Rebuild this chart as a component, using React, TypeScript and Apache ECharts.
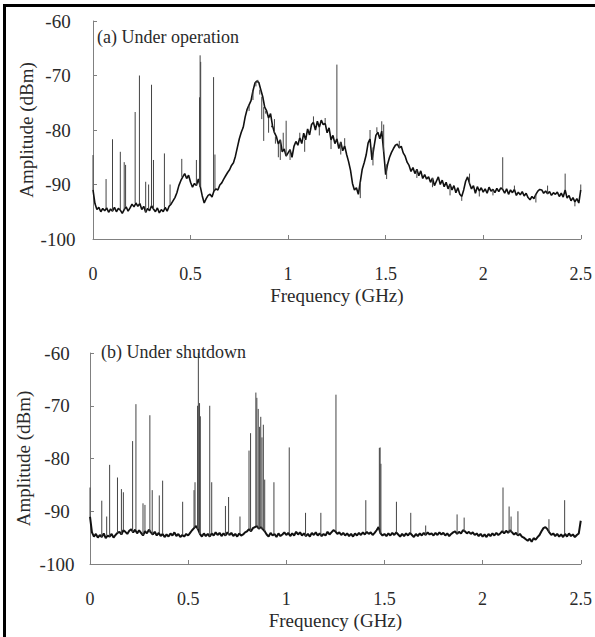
import React, { useEffect, useRef } from "react";
import * as echarts from "echarts";

// Frequency grid step of the noise floor traces (GHz)
const FREQ_STEP = 0.01;

// (a) Under operation: noise floor / broadband trace, one value per 0.01 GHz from 0 to 2.5
const operationTrace = [
  -91.0, -93.5, -94.6, -94.2, -95.0, -94.4, -94.8, -94.3, -95.1, -94.5,
  -94.9, -94.2, -95.0, -94.4, -94.7, -95.3, -94.6, -94.1, -94.9, -94.3,
  -93.6, -94.1, -93.4, -94.0, -93.5, -94.6, -94.0, -95.1, -94.4, -94.8,
  -93.9, -94.5, -95.0, -94.3, -95.2, -94.6, -95.0, -94.2, -94.9, -94.0,
  -93.6, -93.0, -92.4, -91.5, -90.2, -89.3, -88.6, -88.0, -88.9, -88.3,
  -89.6, -90.5, -89.8, -90.2, -89.0, -90.4, -92.1, -93.4, -92.6, -92.0,
  -91.8, -92.3, -91.2, -90.8, -91.0, -90.1, -89.7, -89.0, -88.4, -87.8,
  -87.3, -86.5, -86.0, -84.8, -83.2, -81.6, -80.4, -79.5, -77.6, -76.2,
  -75.4, -74.6, -72.8, -71.4, -71.0, -71.3, -72.6, -73.9, -75.8, -76.5,
  -77.8, -77.0, -79.2, -80.5, -81.2, -82.6, -81.8, -84.0, -83.5, -84.8,
  -84.2, -83.6, -85.0, -83.0, -82.1, -82.8, -81.4, -82.5, -80.6, -81.8,
  -79.8, -80.9, -79.0, -78.6, -80.0, -78.4, -79.5, -78.2, -79.0, -78.8,
  -80.5, -79.6, -81.8, -81.0, -82.5, -81.6, -83.4, -82.2, -83.8, -82.9,
  -84.5, -85.8, -87.4, -89.8, -91.0, -90.6, -91.8, -89.5, -87.2, -86.0,
  -84.6, -82.4, -81.6, -85.5, -83.2, -81.0, -80.4, -81.6, -80.2, -84.0,
  -88.2, -86.3, -85.0, -84.1, -83.4, -82.8, -82.6, -83.3, -83.0, -84.2,
  -84.8, -85.9, -86.5, -87.6, -86.9, -88.0, -87.2, -88.4, -87.5, -88.9,
  -88.2, -89.0, -88.6, -89.6, -88.8, -90.2, -89.4, -88.6, -90.0, -89.2,
  -90.4, -89.6, -90.8, -89.9, -91.0, -90.2, -91.5, -90.6, -91.8, -92.2,
  -91.0, -89.4, -88.6, -89.8, -90.8, -90.2, -91.6, -90.4, -91.2, -90.6,
  -91.4, -90.8, -91.6, -90.5, -91.2, -90.9, -91.5, -90.7, -91.3, -90.6,
  -90.9, -91.6, -90.8, -91.8, -91.0, -91.5, -90.9, -92.0, -91.4, -91.9,
  -91.3, -92.1, -91.6, -92.4, -92.8, -92.2, -92.6, -91.8, -91.2, -90.9,
  -91.0, -91.6, -91.2, -91.7, -91.3, -92.0, -91.5, -91.8, -91.4, -92.2,
  -91.6, -92.3, -91.0, -92.5, -92.0, -93.0, -92.4, -93.2, -92.6, -93.4,
  -91.0,
];

// (a) narrow spectral lines and jagged excursions: frequency (GHz) and tip amplitude (dBm)
const operationSpikeFreq = [
  0.0, 0.067, 0.1, 0.14, 0.16, 0.167, 0.216, 0.238, 0.27, 0.285, 0.3, 0.31,
  0.366, 0.395, 0.455, 0.53, 0.546, 0.549, 0.552, 0.618, 0.625,
  0.8, 0.82, 0.835, 0.845, 0.855, 0.865, 0.875, 0.885, 0.9, 0.915, 0.93, 0.935,
  0.95, 0.96, 0.975, 0.99, 1.01, 1.06, 1.085, 1.13, 1.16, 1.19, 1.22, 1.25,
  1.27, 1.29, 1.37, 1.42, 1.435, 1.455, 1.48, 1.49, 1.505, 1.57, 1.66, 1.74,
  1.83, 1.89, 1.93, 1.98, 2.05, 2.1, 2.16, 2.27, 2.33, 2.42, 2.47, 2.5,
];
const operationSpikePeak = [
  -84.6, -89.0, -81.7, -84.0, -85.9, -86.4, -76.7, -70.0, -89.5, -90.0, -71.7, -85.5,
  -84.3, -90.0, -85.3, -85.5, -74.0, -66.3, -67.5, -70.3, -84.5,
  -76.5, -74.5, -72.0, -70.8, -73.5, -78.0, -82.0, -77.0, -80.5, -79.5, -78.0, -82.5,
  -85.0, -85.5, -80.5, -78.3, -85.5, -80.5, -84.0, -77.5, -81.0, -77.8, -83.5, -68.0,
  -84.5, -81.5, -92.5, -80.0, -86.5, -79.5, -78.4, -79.0, -89.0, -82.0, -88.8, -90.5,
  -92.0, -93.0, -88.0, -92.2, -92.0, -85.0, -90.2, -93.3, -90.2, -88.0, -94.0, -90.0,
];

// (b) Under shutdown: noise floor, one value per 0.01 GHz from 0 to 2.5
const shutdownTrace = [
  -91.0, -94.0, -94.8, -94.3, -95.0, -94.5, -94.9, -94.2, -95.1, -94.6,
  -94.8, -94.3, -95.0, -94.5, -94.1, -93.9, -94.4, -93.6, -93.9, -94.3,
  -93.7, -93.4, -94.0, -93.5, -94.2, -93.6, -94.1, -94.6, -93.8, -94.2,
  -93.5, -94.0, -94.4, -93.9, -94.6, -94.1, -94.7, -94.3, -94.9, -94.4,
  -94.8, -94.2, -94.6, -94.0, -94.7, -94.3, -94.9, -94.5, -94.8, -94.3,
  -94.6, -94.1, -93.6, -93.2, -92.8, -93.4, -94.3, -94.8, -94.2, -94.7,
  -94.3, -94.8, -94.2, -94.6, -94.0, -94.5, -94.1, -94.7, -94.2, -94.6,
  -94.0, -94.5, -94.1, -94.7, -94.3, -94.8, -94.2, -94.6, -94.4, -94.0,
  -93.8, -93.4, -93.8, -93.2, -93.0, -92.8, -93.3, -93.0, -93.4, -93.8,
  -94.4, -94.8, -94.1, -94.6, -94.3, -94.9, -94.2, -94.7, -94.4, -94.0,
  -94.5, -94.1, -94.7, -94.2, -94.6, -93.9, -94.4, -94.0, -94.6, -94.2,
  -94.7, -94.3, -94.8, -94.1, -94.5, -94.0, -94.6, -94.2, -94.7, -94.3,
  -94.6, -93.9, -94.4, -94.0, -93.6, -93.8, -94.3, -94.0, -94.5, -94.1,
  -94.6, -94.2, -94.7, -94.3, -94.8, -94.2, -94.6, -94.1, -94.5, -94.0,
  -94.4, -93.9, -94.3, -94.0, -94.5, -94.1, -93.6, -93.0, -94.2, -94.6,
  -94.3, -94.7, -94.2, -94.6, -94.1, -94.5, -94.0, -94.4, -94.8, -94.3,
  -94.7, -94.2, -94.6, -94.1, -94.5, -94.9, -94.3, -94.7, -94.2, -94.6,
  -94.1, -94.5, -94.0, -94.4, -94.2, -94.6, -94.1, -94.5, -94.0, -94.4,
  -94.1, -94.6, -94.2, -94.7, -94.3, -94.0, -93.8, -94.3, -93.9, -94.2,
  -93.6, -93.8, -94.2, -93.9, -94.3, -94.0, -94.5, -94.2, -94.7, -94.3,
  -94.8, -94.4, -94.9, -94.3, -94.7, -94.2, -94.6, -94.1, -94.5, -94.2,
  -93.8, -94.2, -93.7, -94.1, -93.6, -94.0, -94.4, -94.1, -94.6, -94.3,
  -94.8, -95.0, -95.3, -95.6, -95.2, -95.8, -95.1, -95.4, -94.9, -94.5,
  -93.8, -93.2, -93.0, -93.4, -94.0, -94.5, -94.2, -94.7, -94.3, -94.8,
  -94.4, -94.9, -94.3, -94.8, -94.2, -94.7, -94.4, -94.9, -94.5, -94.2,
  -91.8,
];

// (b) narrow spectral lines: frequency (GHz) and peak amplitude (dBm)
const shutdownSpikeFreq = [
  0.0, 0.06, 0.085, 0.1, 0.14, 0.16, 0.17, 0.217, 0.234, 0.27, 0.28, 0.305,
  0.317, 0.353, 0.37, 0.472, 0.53, 0.535, 0.548, 0.552, 0.558, 0.562, 0.61, 0.62,
  0.69, 0.706, 0.764, 0.81, 0.818, 0.845, 0.85, 0.857, 0.864, 0.87, 0.876, 0.883,
  0.89, 0.937, 1.015, 1.098, 1.176, 1.253, 1.405, 1.474, 1.478, 1.482, 1.561,
  1.634, 1.71, 1.87, 1.906, 2.104, 2.135, 2.145, 2.18, 2.338, 2.418, 2.495,
];
const shutdownSpikePeak = [
  -85.5, -88.0, -91.0, -81.2, -83.6, -85.8, -86.4, -76.7, -69.7, -88.5, -88.8, -71.8,
  -86.0, -87.0, -84.2, -88.2, -86.0, -84.5, -70.0, -60.0, -69.5, -72.0, -70.0, -84.5,
  -89.0, -87.3, -91.0, -78.5, -75.2, -67.5, -68.5, -70.6, -74.0, -72.1, -76.0, -73.6,
  -84.0, -84.5, -77.9, -90.3, -90.3, -67.9, -87.9, -78.0, -77.9, -81.0, -88.2,
  -90.3, -92.7, -90.6, -91.2, -85.5, -89.1, -91.0, -90.0, -91.5, -87.9, -91.8,
];

const Y_TICKS = { min: -100, max: -60, interval: 10 };
const X_TICKS = { min: 0, max: 2.5, interval: 0.5 };

const FONT = "'Liberation Serif', 'Times New Roman', serif";

function traceData(values: number[]) {
  return values.map((v, i) => [Math.round(i * FREQ_STEP * 1000) / 1000, v]);
}

function spikeData(freqs: number[], peaks: number[], trace: number[]) {
  const out: any[] = [];
  freqs.forEach((f, i) => {
    const idx = Math.min(trace.length - 1, Math.round(f / FREQ_STEP));
    out.push([f, trace[idx]]);
    out.push([f, peaks[i]]);
    out.push([f, "-"]);
  });
  return out;
}

export default function App() {
  const ref = useRef<HTMLDivElement>(null);
  useEffect(() => {
    if (!ref.current) return;
    const chart = echarts.init(ref.current, null, { renderer: "svg" });
    const axisColor = "#808080";
    const textColor = "#2a2a2a";
    const xAxisBase = (gridIndex: number) => ({
      type: "value",
      gridIndex,
      ...X_TICKS,
      name: "Frequency (GHz)",
      nameLocation: "middle",
      nameGap: 47,
      nameMoveOverlap: false,
      nameTextStyle: { fontFamily: FONT, fontSize: 19, color: textColor, lineHeight: 19 },
      axisLine: { onZero: false, lineStyle: { color: axisColor, width: 1 } },
      axisTick: { inside: true, length: 4, lineStyle: { color: axisColor } },
      axisLabel: {
        margin: 26,
        fontFamily: FONT,
        fontSize: 18,
        lineHeight: 18,
        color: textColor,
      },
      splitLine: { show: false },
    });
    const yAxisBase = (gridIndex: number, labelMargin: number) => ({
      type: "value",
      gridIndex,
      ...Y_TICKS,
      name: "Amplitude (dBm)",
      nameLocation: "middle",
      nameGap: 57,
      nameMoveOverlap: false,
      nameTextStyle: { fontFamily: FONT, fontSize: 19, color: textColor },
      axisLine: { show: true, lineStyle: { color: axisColor, width: 1 } },
      axisTick: { show: true, inside: true, length: 4, lineStyle: { color: axisColor } },
      axisLabel: {
        margin: labelMargin,
        align: "center",
        fontFamily: FONT,
        fontSize: 19,
        color: textColor,
      },
      splitLine: { show: false },
    });
    chart.setOption({
      animation: false,
      backgroundColor: "#ffffff",
      grid: [
        { left: 93, top: 21, width: 488, height: 218 },
        { left: 90, top: 353, width: 491, height: 211 },
      ],
      xAxis: [xAxisBase(0), xAxisBase(1)],
      yAxis: [yAxisBase(0, 35), yAxisBase(1, 33)],
      graphic: [
        { type: "rect", left: 3, top: 4, shape: { width: 3, height: 633 }, style: { fill: "#000" }, z: 10 },
        { type: "rect", left: 3, top: 4, shape: { width: 592, height: 3 }, style: { fill: "#000" }, z: 10 },
        {
          type: "text",
          left: 97,
          top: 28,
          style: { text: "(a) Under operation", fontFamily: FONT, fontSize: 18, fill: textColor },
          z: 10,
        },
        {
          type: "text",
          left: 101,
          top: 343,
          style: { text: "(b) Under shutdown", fontFamily: FONT, fontSize: 18, fill: textColor },
          z: 10,
        },
      ],
      series: [
        {
          type: "line",
          xAxisIndex: 0,
          yAxisIndex: 0,
          data: traceData(operationTrace),
          showSymbol: false,
          symbol: "none",
          lineStyle: { color: "#111", width: 1.6 },
        },
        {
          type: "line",
          xAxisIndex: 0,
          yAxisIndex: 0,
          data: spikeData(operationSpikeFreq, operationSpikePeak, operationTrace),
          showSymbol: false,
          symbol: "none",
          connectNulls: false,
          lineStyle: { color: "#444", width: 1 },
        },
        {
          type: "line",
          xAxisIndex: 1,
          yAxisIndex: 1,
          data: traceData(shutdownTrace),
          showSymbol: false,
          symbol: "none",
          lineStyle: { color: "#111", width: 2 },
        },
        {
          type: "line",
          xAxisIndex: 1,
          yAxisIndex: 1,
          data: spikeData(shutdownSpikeFreq, shutdownSpikePeak, shutdownTrace),
          showSymbol: false,
          symbol: "none",
          connectNulls: false,
          lineStyle: { color: "#444", width: 1 },
        },
      ],
    });
    return () => chart.dispose();
  }, []);
  return (
    <div
      ref={ref}
      style={{ position: "absolute", left: 0, top: 0, width: 595, height: 637, background: "#fff" }}
    />
  );
}
